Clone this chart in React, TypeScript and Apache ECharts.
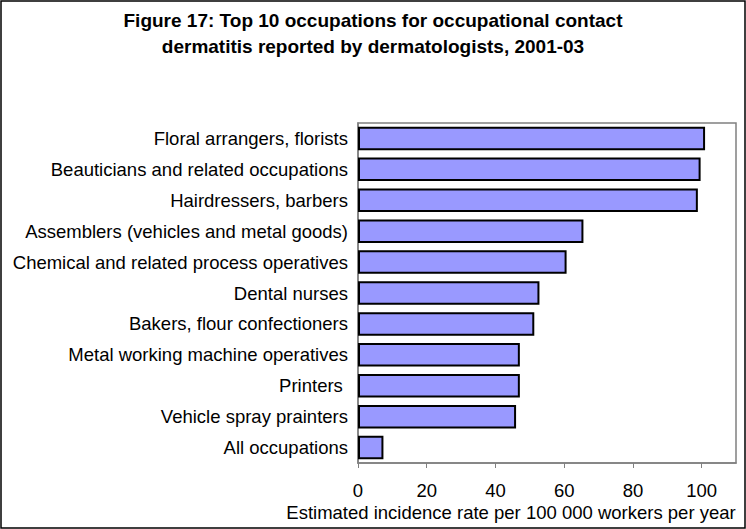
import React, { useEffect, useRef } from "react";
import * as echarts from "echarts";

const categories = [
  "Floral arrangers, florists",
  "Beauticians and related occupations",
  "Hairdressers, barbers",
  "Assemblers (vehicles and metal goods)",
  "Chemical and related process operatives",
  "Dental nurses",
  "Bakers, flour confectioners",
  "Metal working machine operatives",
  "Printers ",
  "Vehicle spray prainters",
  "All occupations",
];
const values = [101.0, 99.7, 98.9, 65.6, 60.7, 52.8, 51.3, 47.1, 47.1, 46.0, 7.4];
const titleLines = [
  "Figure 17: Top 10 occupations for occupational contact",
  "dermatitis reported by dermatologists, 2001-03",
];
const axisName = "Estimated incidence rate per 100 000 workers per year";

const FONT = "'Liberation Sans', Arial, sans-serif";
const FS = 18.5;

export default function App() {
  const ref = useRef<HTMLDivElement>(null);
  useEffect(() => {
    if (!ref.current) return;
    const chart = echarts.init(ref.current, undefined, { renderer: "svg" });
    chart.setOption({
      animation: false,
      backgroundColor: "#ffffff",
      title: {
        text: titleLines.join("\n"),
        left: "center",
        top: 2,
        textStyle: {
          fontFamily: FONT,
          fontWeight: "bold",
          fontSize: 19,
          lineHeight: 26,
          color: "#000",
        },
      },
      grid: { left: 358, right: 10, top: 123, bottom: 66, show: true, borderColor: "#808080", borderWidth: 1.5, backgroundColor: "transparent" },
      xAxis: {
        type: "value",
        min: 0,
        max: 110,
        interval: 20,
        axisLine: { show: true, lineStyle: { color: "#808080", width: 1.5 } },
        axisTick: { show: true, length: 5, lineStyle: { color: "#808080" } },
        axisLabel: {
          fontFamily: FONT,
          fontSize: FS,
          color: "#000",
          margin: 18,
          showMaxLabel: false,
          formatter: (v: number) => (v > 100 ? "" : String(v)),
        },
        splitLine: { show: false },
      },
      yAxis: {
        type: "category",
        data: categories,
        inverse: true,
        axisLine: { show: true, lineStyle: { color: "#808080", width: 1.5 } },
        axisTick: { show: false },
        axisLabel: { fontFamily: FONT, fontSize: FS, color: "#000", margin: 10 },
      },
      series: [
        {
          type: "bar",
          data: values,
          barCategoryGap: "24%",
          itemStyle: { color: "#9999FF", borderColor: "#000", borderWidth: 2 },
        },
      ],
      graphic: [
        {
          type: "text",
          x: 511,
          y: 512,
          style: {
            text: axisName,
            fontFamily: FONT,
            fontSize: FS,
            fill: "#000",
            textAlign: "center",
            textVerticalAlign: "middle",
          },
        },
        {
          type: "rect",
          shape: { x: 1, y: 1, width: 744, height: 527 },
          style: { fill: "none", stroke: "#000", lineWidth: 1.5 },
          z: 100,
        },
      ],
    });
    return () => chart.dispose();
  }, []);
  return (
    <div
      ref={ref}
      style={{ position: "fixed", left: 0, top: 0, width: 746, height: 529 }}
    />
  );
}
